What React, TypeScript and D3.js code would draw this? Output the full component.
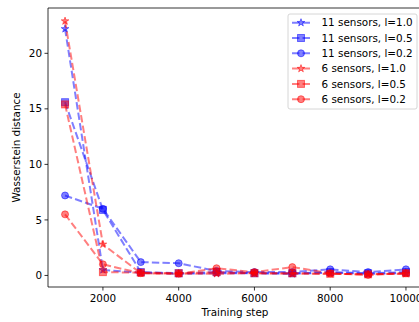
import React from "react";
import * as d3 from "d3";

const steps = [1000, 2000, 3000, 4000, 5000, 6000, 7000, 8000, 9000, 10000];
const xTicks = [2000, 4000, 6000, 8000, 10000];
const yTicks = [0, 5, 10, 15, 20];

const s11_l10 = [22.2, 0.5, 0.25, 0.15, 0.2, 0.2, 0.15, 0.25, 0.15, 0.2];
const s11_l05 = [15.6, 5.9, 0.3, 0.2, 0.3, 0.2, 0.2, 0.3, 0.2, 0.3];
const s11_l02 = [7.2, 6.0, 1.2, 1.1, 0.4, 0.3, 0.3, 0.55, 0.3, 0.55];
const s6_l10 = [22.9, 2.8, 0.2, 0.15, 0.15, 0.2, 0.15, 0.15, 0.1, 0.15];
const s6_l05 = [15.4, 0.3, 0.25, 0.2, 0.3, 0.2, 0.2, 0.15, 0.1, 0.2];
const s6_l02 = [5.5, 1.0, 0.2, 0.15, 0.65, 0.3, 0.75, 0.2, 0.05, 0.2];

const seriesLabels = [
  "11 sensors, l=1.0",
  "11 sensors, l=0.5",
  "11 sensors, l=0.2",
  "6 sensors, l=1.0",
  "6 sensors, l=0.5",
  "6 sensors, l=0.2",
];
const seriesValues = [s11_l10, s11_l05, s11_l02, s6_l10, s6_l05, s6_l02];
const seriesColors = ["#0000ff", "#0000ff", "#0000ff", "#ff0000", "#ff0000", "#ff0000"];
const seriesMarkers = ["star", "square", "circle", "star", "square", "circle"];

const W = 419;
const H = 322;
const m = { left: 48, top: 8, right: 423, bottom: 287 };

function starPath(cx: number, cy: number, R: number) {
  const r = R * 0.381966;
  const pts: string[] = [];
  for (let i = 0; i < 10; i++) {
    const a = -Math.PI / 2 + (i * Math.PI) / 5;
    const rad = i % 2 === 0 ? R : r;
    pts.push(`${cx + rad * Math.cos(a)},${cy + rad * Math.sin(a)}`);
  }
  return "M" + pts.join("L") + "Z";
}

function Marker({ type, x, y, color }: { type: string; x: number; y: number; color: string }) {
  if (type === "star")
    return <path d={starPath(x, y, 4)} fill={color} fillOpacity={0.5} stroke={color} strokeOpacity={0.5} strokeWidth={1} />;
  if (type === "square")
    return <rect x={x - 3.5} y={y - 3.5} width={7} height={7} fill={color} fillOpacity={0.5} stroke={color} strokeOpacity={0.5} strokeWidth={1} />;
  return <circle cx={x} cy={y} r={3.5} fill={color} fillOpacity={0.5} stroke={color} strokeOpacity={0.5} strokeWidth={1} />;
}

export default function App() {
  const x = d3.scaleLinear().domain([550, 10450]).range([m.left, m.right]);
  const y = d3.scaleLinear().domain([-1.04, 24.08]).range([m.bottom, m.top]);
  const line = d3
    .line<number>()
    .x((_, i) => x(steps[i]))
    .y((d) => y(d));
  const font = "DejaVu Sans, sans-serif";
  const fs = 10.4;
  const legX = 288;
  const legY = 14;
  const rowH = 15.3;
  return (
    <svg
      width={W}
      height={H}
      style={{ position: "absolute", left: 0, top: 0, background: "#fff" }}
      fontFamily={font}
    >
      <defs>
        <clipPath id="plot">
          <rect x={m.left} y={m.top} width={m.right - m.left} height={m.bottom - m.top} />
        </clipPath>
      </defs>
      <g clipPath="url(#plot)">
        {seriesValues.map((vals, si) => (
          <g key={si}>
            <path
              d={line(vals) || ""}
              fill="none"
              stroke={seriesColors[si]}
              strokeOpacity={0.5}
              strokeWidth={2}
              strokeDasharray="7.4,3.2"
            />
            {vals.map((v, i) => (
              <Marker key={i} type={seriesMarkers[si]} x={x(steps[i])} y={y(v)} color={seriesColors[si]} />
            ))}
          </g>
        ))}
      </g>
      {/* spines */}
      <line x1={m.left} x2={m.left} y1={m.top} y2={m.bottom} stroke="#000" strokeWidth={0.8} />
      <line x1={m.left} x2={m.right} y1={m.bottom} y2={m.bottom} stroke="#000" strokeWidth={0.8} />
      <line x1={m.left} x2={m.right} y1={m.top} y2={m.top} stroke="#000" strokeWidth={0.8} />
      <line x1={m.right} x2={m.right} y1={m.top} y2={m.bottom} stroke="#000" strokeWidth={0.8} />
      {/* x ticks */}
      {xTicks.map((t) => (
        <g key={t}>
          <line x1={x(t)} x2={x(t)} y1={m.bottom} y2={m.bottom + 3.5} stroke="#000" strokeWidth={0.8} />
          <text x={x(t)} y={m.bottom + 15} fontSize={fs} textAnchor="middle" fill="#000">
            {t}
          </text>
        </g>
      ))}
      {yTicks.map((t) => (
        <g key={t}>
          <line x1={m.left - 3.5} x2={m.left} y1={y(t)} y2={y(t)} stroke="#000" strokeWidth={0.8} />
          <text x={m.left - 6} y={y(t)} dy="0.35em" fontSize={fs} textAnchor="end" fill="#000">
            {t}
          </text>
        </g>
      ))}
      <text x={235} y={316} fontSize={fs} textAnchor="middle" fill="#000">
        Training step
      </text>
      <text
        transform={`translate(20,${(m.top + m.bottom) / 2}) rotate(-90)`}
        fontSize={fs}
        textAnchor="middle"
        fill="#000"
      >
        Wasserstein distance
      </text>
      {/* legend */}
      <rect x={legX} y={legY} width={129} height={95} rx={2} fill="#fff" fillOpacity={0.8} stroke="#cccccc" strokeWidth={0.8} />
      {seriesLabels.map((lab, i) => {
        const cy = legY + 8.7 + i * rowH;
        return (
          <g key={lab}>
            <line x1={292} x2={310} y1={cy} y2={cy} stroke={seriesColors[i]} strokeOpacity={0.5} strokeWidth={2} strokeDasharray="7.4,3.2" />
            <Marker type={seriesMarkers[i]} x={301} y={cy} color={seriesColors[i]} />
            <text x={321.5} y={cy} dy="0.35em" fontSize={fs} fill="#000">
              {lab}
            </text>
          </g>
        );
      })}
    </svg>
  );
}
